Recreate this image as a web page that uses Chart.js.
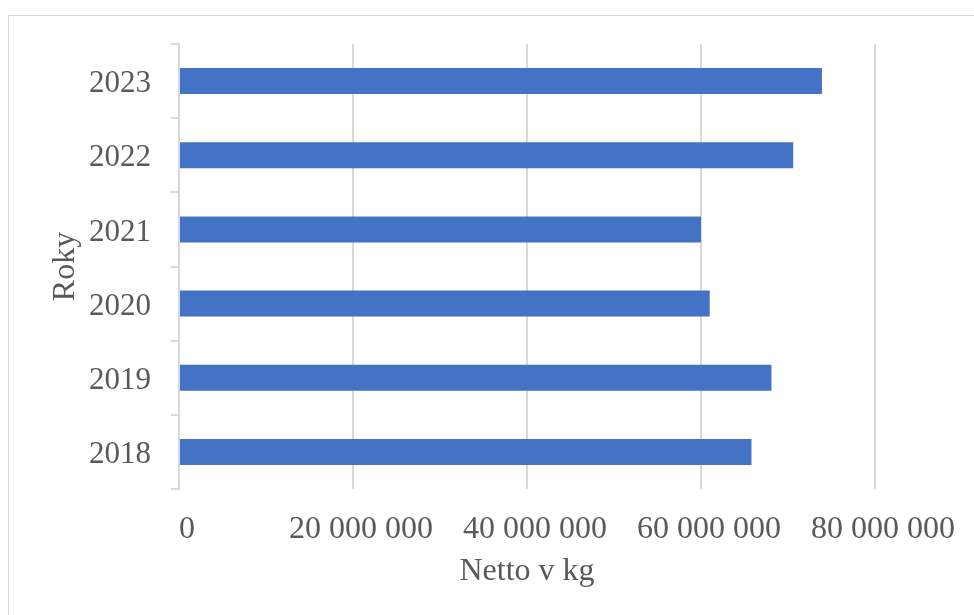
<!DOCTYPE html>
<html>
<head>
<meta charset="utf-8">
<script src="https://cdn.jsdelivr.net/npm/chart.js@4"></script>
<style>
    html, body { margin: 0; padding: 0; background: #fff; overflow: hidden; }
    #wrap { position: absolute; left: 0; top: 0; width: 974px; height: 615px; }
    #frame {
        position: absolute; left: 8px; top: 15px; width: 1000px; height: 1000px;
        border: 1px solid #d9d9d9; pointer-events: none;
    }
</style>
</head>
<body>
<div id="wrap"><canvas id="chart" width="974" height="615"></canvas></div>
<div id="frame"></div>
<script>
// chart data
const years = ['2018', '2019', '2020', '2021', '2022', '2023'];
const nettoKg = [65800000, 68100000, 61000000, 60000000, 70600000, 73900000];
const xTitle = 'Netto v kg';
const yTitle = 'Roky';

const textColor = '#595959';
const gridColor = '#d9d9d9';
const serif = "'Liberation Serif', 'Times New Roman', serif";

function formatSpaced(value) {
    return String(value).replace(/\B(?=(\d{3})+(?!\d))/g, ' ');
}

const ctx = document.getElementById('chart').getContext('2d');
new Chart(ctx, {
    type: 'bar',
    data: {
        labels: years,
        datasets: [{
            data: nettoKg,
            backgroundColor: '#4472c4',
            borderWidth: 0,
            barPercentage: 0.35,
            categoryPercentage: 1
        }]
    },
    options: {
        indexAxis: 'y',
        responsive: false,
        animation: false,
        layout: { padding: { left: 44, top: 44, right: 0, bottom: 24 } },
        plugins: {
            legend: { display: false },
            tooltip: { enabled: false }
        },
        scales: {
            x: {
                min: 0,
                max: 80000000,
                afterFit: scale => {
                    scale.height = 102;
                    scale.paddingRight = 99;
                    scale.paddingLeft = 0;
                },
                ticks: {
                    stepSize: 20000000,
                    color: textColor,
                    font: { family: serif, size: 32 },
                    padding: 21,
                    labelOffset: 8,
                    maxRotation: 0,
                    callback: v => formatSpaced(v)
                },
                grid: { color: gridColor, lineWidth: 2, drawTicks: false },
                border: { display: false },
                title: {
                    display: true,
                    text: xTitle,
                    color: textColor,
                    font: { family: serif, size: 32 },
                    padding: 0
                }
            },
            y: {
                reverse: true,
                afterFit: scale => { scale.width = 135; },
                ticks: {
                    color: textColor,
                    font: { family: serif, size: 31 },
                    padding: 20,
                    labelOffset: 3
                },
                grid: {
                    drawOnChartArea: false,
                    drawTicks: true,
                    tickLength: 8,
                    color: gridColor,
                    lineWidth: 2
                },
                border: { display: true, color: gridColor, width: 2 },
                title: {
                    display: true,
                    text: yTitle,
                    color: textColor,
                    font: { family: serif, size: 32 },
                    padding: 2
                }
            }
        }
    }
});
</script>
</body>
</html>
